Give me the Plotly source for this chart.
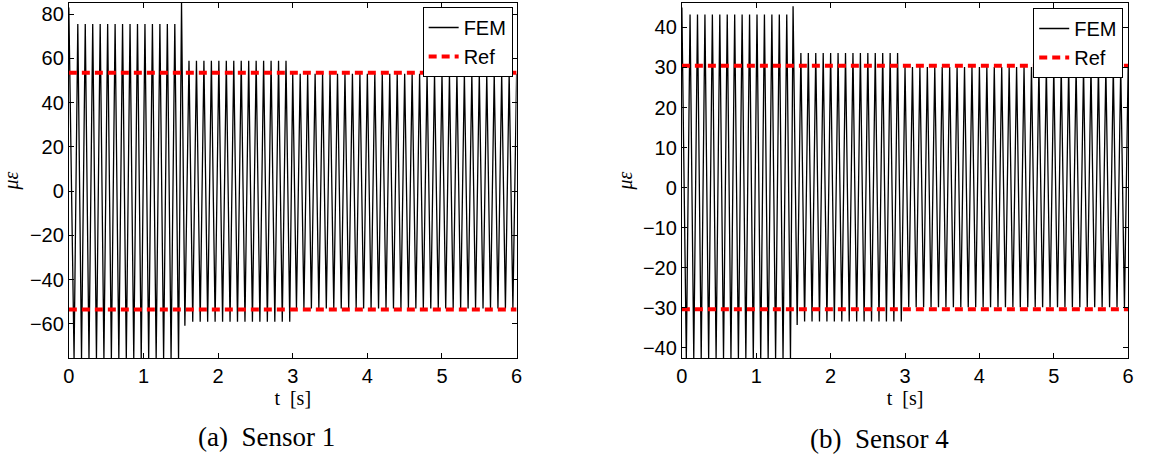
import plotly.graph_objects as go

# ---------------- data ----------------
PERIOD = 0.1                      # s, spacing between successive peaks
T_END = 6.0

# Sensor 1
s1_first_peak = [0.12, 1.61, 3.0]     # first peak time of each load segment
s1_n_peaks = [14, 14, 31]
s1_peak = [75.5, 58.9, 53.0]
s1_trough = [-75.5, -59.0, -53.0]
s1_initial = 83.0                     # value at t = 0
s1_jump_t = [1.51, 1.555]             # transient at the first load change
s1_jump_y = [85.0, -60.8]
s1_ref = 53.5

# Sensor 4
s4_first_peak = [0.11, 1.60, 3.0]
s4_n_peaks = [14, 14, 31]
s4_peak = [43.2, 33.6, 30.1]
s4_trough = [-42.6, -33.4, -29.9]
s4_initial = 45.0
s4_jump_t = [1.495, 1.55]
s4_jump_y = [45.3, -34.3]
s4_ref = 30.4

x_ticks = [0, 1, 2, 3, 4, 5, 6]
s1_y_ticks = [-60, -40, -20, 0, 20, 40, 60, 80]
s4_y_ticks = [-40, -30, -20, -10, 0, 10, 20, 30, 40]


def fem_series(initial, first_peak, n_peaks, peak, trough, jump_t, jump_y):
    """Polyline through the read extrema of the oscillating FEM strain."""
    t, y = [0.0], [initial]
    tp = first_peak[0]
    for k in range(n_peaks[0]):
        tp = first_peak[0] + k * PERIOD
        t += [tp - PERIOD / 2, tp]
        y += [trough[0], peak[0]]
    t.append(tp + PERIOD / 2)
    y.append(trough[0])
    t += jump_t
    y += jump_y
    for k in range(n_peaks[1]):
        tp = first_peak[1] + k * PERIOD
        t += [tp, tp + PERIOD / 2]
        y += [peak[1], trough[1]]
    for k in range(n_peaks[2]):
        tp = first_peak[2] + k * PERIOD
        t.append(tp)
        y.append(peak[2])
        if tp + PERIOD / 2 <= T_END:
            t.append(tp + PERIOD / 2)
            y.append(trough[2])
    return t, y


s1_t, s1_y = fem_series(s1_initial, s1_first_peak, s1_n_peaks, s1_peak,
                        s1_trough, s1_jump_t, s1_jump_y)
s4_t, s4_y = fem_series(s4_initial, s4_first_peak, s4_n_peaks, s4_peak,
                        s4_trough, s4_jump_t, s4_jump_y)

# ---------------- figure ----------------
W, H = 1150, 457
fig = go.Figure()

fem_line = dict(color="black", width=1.3)
ref_line = dict(color="#ff0000", width=4, dash="8px,5px")

fig.add_trace(go.Scatter(x=s1_t, y=s1_y, mode="lines", name="FEM",
                         line=fem_line, xaxis="x", yaxis="y", legend="legend"))
fig.add_trace(go.Scatter(x=[0, T_END, None, 0, T_END],
                         y=[s1_ref, s1_ref, None, -s1_ref, -s1_ref],
                         mode="lines", name="Ref", line=ref_line,
                         xaxis="x", yaxis="y", legend="legend"))
fig.add_trace(go.Scatter(x=s4_t, y=s4_y, mode="lines", name="FEM",
                         line=fem_line, xaxis="x2", yaxis="y2", legend="legend2"))
fig.add_trace(go.Scatter(x=[0, T_END, None, 0, T_END],
                         y=[s4_ref, s4_ref, None, -s4_ref, -s4_ref],
                         mode="lines", name="Ref", line=ref_line,
                         xaxis="x2", yaxis="y2", legend="legend2"))

tick_font = dict(family="Liberation Sans, Arial", size=20, color="black")
title_font = dict(family="Liberation Serif, Times New Roman", size=20, color="black")

y_dom = [1 - 359 / H, 1 - 3 / H]
common = dict(showline=True, linecolor="black", linewidth=1, mirror="ticks",
              ticks="inside", ticklen=5, tickcolor="black", tickwidth=1,
              showgrid=False, zeroline=False, tickfont=tick_font)

fig.update_layout(
    width=W, height=H,
    margin=dict(l=0, r=0, t=0, b=0),
    paper_bgcolor="white", plot_bgcolor="white",
    xaxis=dict(domain=[63.5 / W, 516 / W], range=[0, T_END], tickvals=x_ticks,
               title=dict(text="t  [s]", font=title_font, standoff=3),
               anchor="y", **common),
    yaxis=dict(domain=y_dom, range=[-75.5, 85], tickvals=s1_y_ticks,
               ticktext=[str(v).replace("-", "\u2212") for v in s1_y_ticks],
               title=dict(text="<i>\u03bc\u03b5</i>", font=title_font, standoff=6),
               anchor="x", **common),
    xaxis2=dict(domain=[683 / W, 1134 / W], range=[0, T_END], tickvals=x_ticks,
                title=dict(text="t  [s]", font=title_font, standoff=3),
                anchor="y2", **common),
    yaxis2=dict(domain=y_dom, range=[-42.6, 46.1], tickvals=s4_y_ticks,
                ticktext=[str(v).replace("-", "\u2212") for v in s4_y_ticks],
                title=dict(text="<i>\u03bc\u03b5</i>", font=title_font, standoff=4),
                anchor="x2", **common),
    legend=dict(x=512 / W, y=1 - 7 / H, xanchor="right", yanchor="top",
                bgcolor="white", bordercolor="black", borderwidth=1,
                font=dict(family="Liberation Sans, Arial", size=20, color="black"),
                tracegroupgap=0, itemwidth=30),
    legend2=dict(x=1129 / W, y=1 - 8 / H, xanchor="right", yanchor="top",
                 bgcolor="white", bordercolor="black", borderwidth=1,
                 font=dict(family="Liberation Sans, Arial", size=20, color="black"),
                 tracegroupgap=0, itemwidth=30),
    showlegend=True,
)

cap_font = dict(family="Liberation Serif, Times New Roman", size=27, color="black")
fig.add_annotation(text="(a)  Sensor 1", x=263.5 / W, y=1 - 438 / H,
                   xref="paper", yref="paper", showarrow=False,
                   xanchor="center", yanchor="middle", font=cap_font)
fig.add_annotation(text="(b)  Sensor 4", x=883 / W, y=1 - 440 / H,
                   xref="paper", yref="paper", showarrow=False,
                   xanchor="center", yanchor="middle", font=cap_font)

fig.write_html("out.html")
